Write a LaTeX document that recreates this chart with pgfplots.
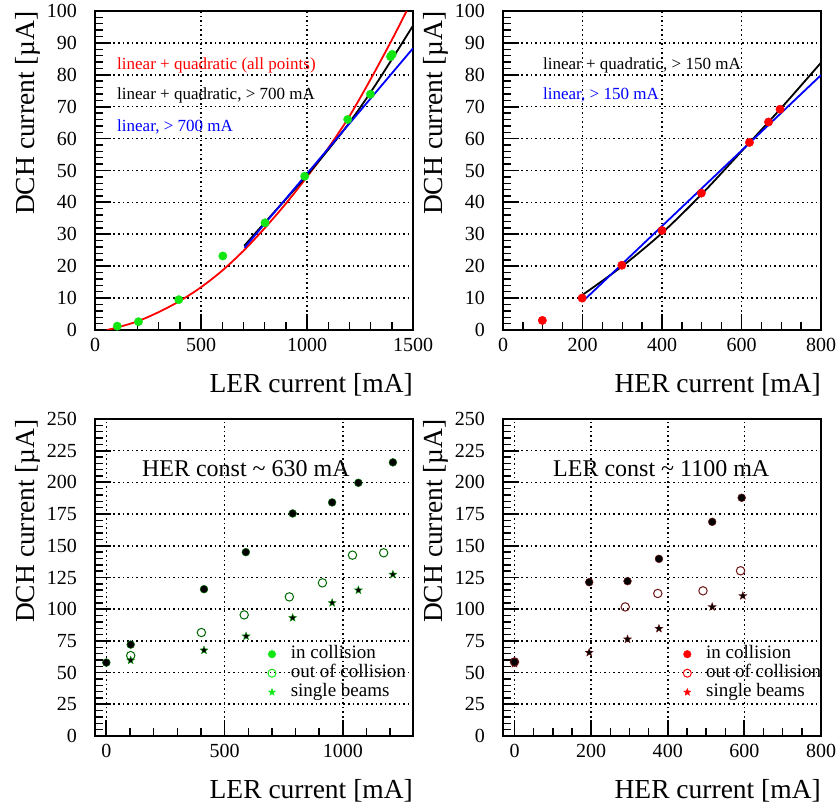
\documentclass[border=0pt]{standalone}
\usepackage{fontspec}
\setmainfont{Liberation Serif}
\usepackage{pgfplots}
\pgfplotsset{compat=1.18}
\usetikzlibrary{plotmarks}

\definecolor{rgreen}{RGB}{20,230,20}
\definecolor{dkgreen}{RGB}{0,105,0}
\definecolor{dkred}{RGB}{110,20,20}
\definecolor{rred}{RGB}{255,0,0}
\definecolor{rblue}{RGB}{0,0,255}

\pgfdeclareplotmark{fstar}{%
  \pgfpathmoveto{\pgfpointpolar{90}{\pgfplotmarksize}}%
  \pgfpathlineto{\pgfpointpolar{126}{0.42\pgfplotmarksize}}%
  \pgfpathlineto{\pgfpointpolar{162}{\pgfplotmarksize}}%
  \pgfpathlineto{\pgfpointpolar{198}{0.42\pgfplotmarksize}}%
  \pgfpathlineto{\pgfpointpolar{234}{\pgfplotmarksize}}%
  \pgfpathlineto{\pgfpointpolar{270}{0.42\pgfplotmarksize}}%
  \pgfpathlineto{\pgfpointpolar{306}{\pgfplotmarksize}}%
  \pgfpathlineto{\pgfpointpolar{342}{0.42\pgfplotmarksize}}%
  \pgfpathlineto{\pgfpointpolar{18}{\pgfplotmarksize}}%
  \pgfpathlineto{\pgfpointpolar{54}{0.42\pgfplotmarksize}}%
  \pgfpathclose\pgfusepathqfillstroke}

\pgfplotsset{
  rootstyle/.style={
    scale only axis, anchor=south west, width=318pt,
    axis line style={line width=2.4pt},
    tick pos=left, tick align=inside,
    major tick length=16pt, minor tick length=8pt,
    major tick style={black, line width=1.8pt},
    minor tick style={black, line width=1.4pt},
    grid=major,
    major grid style={black, line width=1.6pt, dash pattern=on 1.6pt off 3pt},
    /pgf/number format/assume math mode=true,
    /pgf/number format/1000 sep={},
    scaled ticks=false,
    ticklabel style={font=\fontsize{20}{20}\selectfont},
    xticklabel style={anchor=base, inner sep=0pt, yshift=-22pt},
    yticklabel style={anchor=east, inner sep=0pt, xshift=-18pt},
    label style={font=\fontsize{27.5}{30}\selectfont, inner sep=0pt},
    xlabel style={at={(axis description cs:1,0)}, anchor=base east, yshift=-63pt},
    ylabel style={at={(axis description cs:-0.1887,1)}, anchor=base east},
    ylabel={DCH current [µA]},
  },
  rootlegend/.style={
    legend style={draw=none, fill=none, at={(#1,0.288)}, anchor=north west,
      inner sep=0pt, outer sep=0pt, column sep=0pt, row sep=0pt,
      font=\fontsize{19}{19}\selectfont,
      nodes={inner sep=0pt, text height=14pt, text depth=5pt}},
    legend cell align=left,
    legend image code/.code={\draw[##1] plot coordinates {(0pt,0pt)}; \path (-3.5pt,0pt) (18.3pt,0pt);},
  },
}

\begin{document}
\begin{tikzpicture}
\useasboundingbox (0,0) rectangle (837pt,805pt);

% ---------- top left ----------
\begin{axis}[rootstyle, at={(95pt,475pt)}, height=319pt,
  xmin=0, xmax=1500, ymin=0, ymax=100,
  xtick={0,500,1000,1500}, minor x tick num=4,
  ytick={0,10,...,100}, minor y tick num=4,
  xlabel={LER current [mA]}]
\addplot[rred, line width=1.8pt, smooth] coordinates {
(55,0) (100,0.7) (200,2.7) (300,5.6) (400,9.1) (500,13.4) (600,18.6) (700,24.8)
(800,31.9) (900,39.6) (1000,48.0) (1100,57.0) (1200,67.0) (1300,78.6) (1400,90.9) (1470,100)};
\addplot[black, line width=1.8pt, smooth] coordinates {
(704,26.4) (800,33.6) (900,41.0) (1000,48.5) (1100,56.5) (1200,65.0) (1300,74.5) (1400,84.8) (1500,95.4)};
\addplot[rblue, line width=1.8pt] coordinates {(705,25.8) (1500,88.3)};
\addplot[only marks, mark=*, mark size=4.2pt, color=rgreen] coordinates {
(105,1.2) (205,2.6) (395,9.5) (603,23.2) (802,33.6) (989,48.2) (1192,66.0) (1299,73.9) (1394,85.7) (1402,86.4)};
\node[anchor=base west, inner sep=0pt, text=rred, font=\fontsize{17}{17}\selectfont] at (axis cs:104,81.8) {linear + quadratic (all points)};
\node[anchor=base west, inner sep=0pt, text=black, font=\fontsize{17}{17}\selectfont] at (axis cs:104,72.1) {linear + quadratic, > 700 mA};
\node[anchor=base west, inner sep=0pt, text=rblue, font=\fontsize{17}{17}\selectfont] at (axis cs:104,62.2) {linear, > 700 mA};
\end{axis}

% ---------- top right ----------
\begin{axis}[rootstyle, at={(503pt,475pt)}, height=319pt,
  xmin=0, xmax=800, ymin=0, ymax=100,
  xtick={0,200,...,800}, minor x tick num=3,
  ytick={0,10,...,100}, minor y tick num=4,
  xlabel={HER current [mA]}]
\addplot[black, line width=1.8pt, smooth] coordinates {
(200,11.0) (300,20.0) (400,30.4) (500,42.6) (600,56.0) (700,69.6) (800,83.8)};
\addplot[rblue, line width=1.8pt] coordinates {(200,8.9) (800,79.9)};
\addplot[only marks, mark=*, mark size=4.2pt, color=rred] coordinates {
(99,3.0) (199,10.0) (299,20.3) (400,31.2) (499,42.9) (620,58.8) (668,65.2) (697,69.2)};
\node[anchor=base west, inner sep=0pt, text=black, font=\fontsize{17}{17}\selectfont] at (axis cs:100.6,81.8) {linear + quadratic, > 150 mA};
\node[anchor=base west, inner sep=0pt, text=rblue, font=\fontsize{17}{17}\selectfont] at (axis cs:100.6,72.1) {linear, > 150 mA};
\end{axis}

% ---------- bottom left ----------
\begin{axis}[rootstyle, rootlegend=0.544, at={(95pt,69pt)}, height=317pt,
  xmin=-48, xmax=1297, ymin=0, ymax=250,
  xtick={0,500,1000}, minor xtick={100,200,300,400,600,700,800,900,1100,1200},
  ytick={0,25,...,250}, minor y tick num=4,
  xlabel={LER current [mA]}]
\addlegendimage{mark=*, mark size=3.8pt, color=rgreen}
\addlegendentry{in collision}
\addlegendimage{mark=o, mark size=4pt, color=rgreen, line width=1pt}
\addlegendentry{out of collision}
\addlegendimage{mark=fstar, mark size=3.8pt, color=rgreen, line width=0.3pt}
\addlegendentry{single beams}
\addplot[forget plot, only marks, mark=*, mark size=3.9pt, mark options={fill=black, draw=dkgreen, line width=0.5pt}] coordinates {
(0,57.9) (103,72.1) (413,115.8) (590,145.0) (788,175.5) (955,184.2) (1066,199.7) (1212,215.8)};
\addplot[forget plot, only marks, mark=o, mark size=4.2pt, mark options={draw=dkgreen, line width=1pt}] coordinates {
(103,63.4) (402,81.6) (583,95.5) (774,109.7) (914,120.8) (1041,142.6) (1173,144.5)};
\addplot[forget plot, only marks, mark=fstar, mark size=4.2pt, mark options={fill=black, draw=rgreen!70!black, line width=0.4pt}] coordinates {
(103,59.7) (413,67.6) (591,78.7) (788,93.2) (955,105.0) (1066,115.0) (1212,127.4)};
\node[anchor=base west, inner sep=0pt, font=\fontsize{24}{24}\selectfont] at (axis cs:150,205) {HER const \textasciitilde{} 630 mA};
\end{axis}

% ---------- bottom right ----------
\begin{axis}[rootstyle, rootlegend=0.567, at={(503pt,69pt)}, height=317pt,
  xmin=-30, xmax=800, ymin=0, ymax=250,
  xtick={0,200,...,800}, minor x tick num=3,
  ytick={0,25,...,250}, minor y tick num=4,
  xlabel={HER current [mA]}]
\addlegendimage{mark=*, mark size=3.8pt, color=rred}
\addlegendentry{in collision}
\addlegendimage{mark=o, mark size=4pt, color=rred, line width=1pt}
\addlegendentry{out of collision}
\addlegendimage{mark=fstar, mark size=3.8pt, color=rred, line width=0.3pt}
\addlegendentry{single beams}
\addplot[forget plot, only marks, mark=o, mark size=4.2pt, mark options={draw=dkred, line width=1pt}] coordinates {
(0,58.4) (289,101.8) (374,112.4) (492,114.5) (590,130.3)};
\addplot[forget plot, only marks, mark=fstar, mark size=4.2pt, mark options={fill=black, draw=dkred, line width=0.4pt}] coordinates {
(0,57.0) (195,65.8) (295,76.3) (377,84.7) (516,101.8) (596,110.5)};
\addplot[forget plot, only marks, mark=*, mark size=3.9pt, mark options={fill=black, draw=dkred, line width=0.5pt}] coordinates {
(0,58.4) (195,121.3) (295,122.1) (377,139.7) (516,168.9) (593,187.9)};
\node[anchor=base west, inner sep=0pt, font=\fontsize{24}{24}\selectfont] at (axis cs:100.5,205) {LER const \textasciitilde{} 1100 mA};
\end{axis}
\end{tikzpicture}
\end{document}
